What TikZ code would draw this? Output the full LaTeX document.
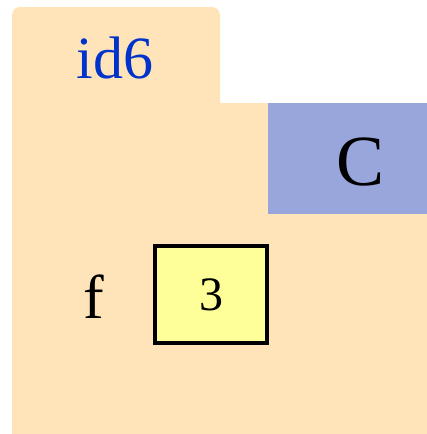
\documentclass[tikz,border=0pt]{standalone}
\usepackage{fontspec}
\setmainfont{Liberation Serif}
\usetikzlibrary{positioning}

\definecolor{framepeach}{HTML}{FFE3B9}
\definecolor{classblue}{HTML}{98A6DB}
\definecolor{valyellow}{HTML}{FFFF99}
\definecolor{idblue}{HTML}{0033CC}

\begin{document}
\begin{tikzpicture}[x=1pt,y=-1pt,
    idlabel/.style={font=\fontsize{60}{60}\selectfont, text=idblue, inner sep=0pt},
    clsname/.style={font=\fontsize{72}{72}\selectfont, inner sep=0pt},
    varname/.style={font=\fontsize{62}{62}\selectfont, inner sep=0pt},
    valbox/.style={draw=black, line width=4pt, fill=valyellow, minimum width=112pt,
                   minimum height=97pt, inner sep=0pt, font=\fontsize{48}{48}\selectfont}]

\useasboundingbox (0,0) rectangle (427,434);

% ---- the frame: a folder with a tab ----
\fill[framepeach] (12,103) rectangle (427,434);
\fill[framepeach, rounded corners=8pt] (12,7) rectangle (220,120);
\node[idlabel, anchor=base] (fid) at (115,78) {id6};

% ---- the class tag ----
\fill[classblue] (268,103) rectangle (427,214);
\node[clsname, anchor=base] (cls) at (361,185) {C};

% ---- the attribute ----
\node[valbox] (fval) at (211,294.5) {3};
\node[varname, anchor=base] (fname) at (94,318) {f};

\end{tikzpicture}
\end{document}
